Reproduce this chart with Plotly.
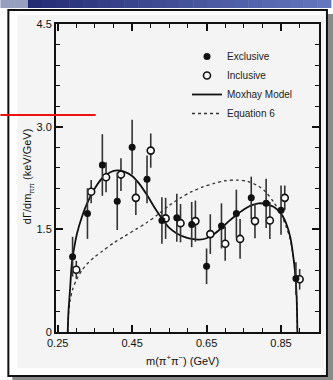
import plotly.graph_objects as go

# ---------------- data ----------------
x_exclusive = [0.29, 0.33, 0.37, 0.41, 0.45, 0.49, 0.53, 0.57, 0.61, 0.65, 0.69, 0.73, 0.77, 0.81, 0.85, 0.89]
y_exclusive = [1.10, 1.73, 2.44, 1.91, 2.70, 2.23, 1.63, 1.67, 1.57, 0.96, 1.55, 1.73, 1.96, 1.88, 1.78, 0.78]
e_exclusive = [0.29, 0.37, 0.45, 0.42, 0.40, 0.35, 0.34, 0.35, 0.33, 0.26, 0.33, 0.35, 0.31, 0.36, 0.36, 0.24]

x_inclusive = [0.30, 0.34, 0.38, 0.42, 0.46, 0.50, 0.54, 0.58, 0.62, 0.66, 0.70, 0.74, 0.78, 0.82, 0.86, 0.90]
y_inclusive = [0.91, 2.05, 2.26, 2.30, 1.96, 2.65, 1.66, 1.59, 1.62, 1.43, 1.29, 1.36, 1.62, 1.63, 1.96, 0.77]
e_inclusive = [0.13, 0.17, 0.22, 0.24, 0.25, 0.25, 0.30, 0.28, 0.30, 0.29, 0.25, 0.29, 0.25, 0.27, 0.18, 0.15]

x_moxhay = [0.277, 0.279, 0.283, 0.288, 0.295, 0.302, 0.315, 0.329, 0.35, 0.37, 0.39, 0.41, 0.43, 0.45,
            0.47, 0.49, 0.51, 0.53, 0.55, 0.57, 0.59, 0.61, 0.63, 0.65, 0.67, 0.69, 0.71, 0.73, 0.75,
            0.77, 0.79, 0.81, 0.83, 0.85, 0.865, 0.875, 0.883, 0.889, 0.892, 0.894]
y_moxhay = [0.0, 0.30, 0.60, 1.00, 1.25, 1.44, 1.68, 1.88, 2.10, 2.25, 2.33, 2.36, 2.34, 2.28,
            2.16, 2.00, 1.82, 1.66, 1.52, 1.44, 1.39, 1.36, 1.35, 1.37, 1.43, 1.52, 1.62, 1.71, 1.79,
            1.85, 1.88, 1.87, 1.83, 1.73, 1.57, 1.38, 1.10, 0.80, 0.50, 0.0]

x_eq6 = [0.277, 0.279, 0.283, 0.29, 0.30, 0.315, 0.33, 0.35, 0.37, 0.40, 0.43, 0.46, 0.49, 0.52,
         0.55, 0.58, 0.61, 0.64, 0.67, 0.70, 0.73, 0.76, 0.79, 0.81, 0.83, 0.85, 0.865, 0.875,
         0.883, 0.889, 0.892, 0.894]
y_eq6 = [0.0, 0.25, 0.45, 0.62, 0.76, 0.90, 1.00, 1.10, 1.18, 1.30, 1.40, 1.50, 1.60, 1.72,
         1.85, 1.96, 2.05, 2.12, 2.17, 2.21, 2.22, 2.20, 2.13, 2.04, 1.90, 1.72, 1.52, 1.35,
         1.10, 0.80, 0.50, 0.0]

x_ticks = [0.25, 0.45, 0.65, 0.85]
x_ticktext = ["0.25", "0.45", "0.65", "0.85"]
y_ticks = [0, 1.5, 3.0, 4.5]
y_ticktext = ["0", "1.5", "3.0", "4.5"]

# ---------------- layout geometry (pixels) ----------------
W, H = 333, 380
L, R, T, B = 56, 321, 24, 332


def PX(x):
    return (x - L) / (R - L)


def PY(y):
    return (B - y) / (B - T)


FONT = "Liberation Sans, Arial, sans-serif"
INK = "#111111"

fig = go.Figure()

fig.add_trace(go.Scatter(
    x=x_eq6, y=y_eq6, mode="lines", name="Equation 6", legendrank=4,
    line=dict(color="#333333", width=1.3, dash="dot", shape="spline", smoothing=0.8)))
fig.add_trace(go.Scatter(
    x=x_moxhay, y=y_moxhay, mode="lines", name="Moxhay Model", legendrank=3,
    line=dict(color=INK, width=1.8, shape="spline", smoothing=0.8)))
fig.add_trace(go.Scatter(
    x=x_inclusive, y=y_inclusive, mode="markers", name="Inclusive", legendrank=2,
    marker=dict(symbol="circle", size=7, color="white", line=dict(color=INK, width=1.6)),
    error_y=dict(type="data", array=e_inclusive, visible=True, color="#333333", thickness=1.6, width=0)))
fig.add_trace(go.Scatter(
    x=x_exclusive, y=y_exclusive, mode="markers", name="Exclusive", legendrank=1,
    marker=dict(symbol="circle", size=7, color=INK, line=dict(color=INK, width=0)),
    error_y=dict(type="data", array=e_exclusive, visible=True, color="#333333", thickness=1.6, width=0)))

shapes = []
# header gradient bar
n = 24
for i in range(n):
    t = i / (n - 1)
    if i * W / n < 14:
        c = "rgb(150,160,190)"
    else:
        r = int(30 + 70 * t)
        g = int(38 + 80 * t)
        b = int(110 + 80 * t)
        c = f"rgb({r},{g},{b})"
    shapes.append(dict(type="rect", xref="paper", yref="paper", layer="below",
                       x0=PX(i * W / n), x1=PX((i + 1) * W / n + 0.5), y0=PY(8), y1=PY(0),
                       line=dict(width=0), fillcolor=c))
# shadow of frame
shapes.append(dict(type="rect", xref="paper", yref="paper", layer="below",
                   x0=PX(12), x1=PX(340), y0=PY(380), y1=PY(14),
                   line=dict(width=0), fillcolor="#8a8a8a"))
# frame
shapes.append(dict(type="rect", xref="paper", yref="paper", layer="below",
                   x0=PX(8), x1=PX(329), y0=PY(376), y1=PY(10),
                   line=dict(width=2, color="#111111"), fillcolor="white"))
# scanned area
shapes.append(dict(type="rect", xref="paper", yref="paper", layer="below",
                   x0=PX(17), x1=PX(326), y0=PY(368), y1=PY(15),
                   line=dict(width=0), fillcolor="#f4f4f4"))
# red pointer line
shapes.append(dict(type="line", xref="paper", yref="paper", layer="above",
                   x0=PX(0), x1=PX(96), y0=PY(115), y1=PY(115),
                   line=dict(width=2, color="#ee1111")))

annotations = [
    dict(text="dΓ/dm<sub>ππ</sub> (keV/GeV)", xref="paper", yref="paper",
         x=PX(28), y=PY(176), textangle=-90, showarrow=False,
         font=dict(family=FONT, size=11, color=INK), xanchor="center", yanchor="middle"),
    dict(text="m(π<sup>+</sup>π<sup>−</sup>) (GeV)", xref="paper", yref="paper",
         x=PX(183), y=PY(360), showarrow=False,
         font=dict(family=FONT, size=11, color=INK), xanchor="center", yanchor="middle"),
]

axis_common = dict(
    showgrid=False, zeroline=False, showline=True, linewidth=2, linecolor=INK,
    mirror="allticks", ticks="inside", ticklen=7, tickwidth=1.5, tickcolor=INK,
    tickfont=dict(family=FONT, size=11, color=INK),
)

fig.update_layout(
    width=W, height=H,
    margin=dict(l=L, r=W - R, t=T, b=H - B, pad=0),
    paper_bgcolor="white", plot_bgcolor="rgba(0,0,0,0)",
    shapes=shapes, annotations=annotations,
    xaxis=dict(range=[0.2455, 0.952], tickvals=x_ticks, ticktext=x_ticktext,
               minor=dict(dtick=0.05, tick0=0.25, ticks="inside", ticklen=4, tickwidth=1.2, tickcolor=INK),
               **axis_common),
    yaxis=dict(range=[0, 4.5], tickvals=y_ticks, ticktext=y_ticktext,
               minor=dict(dtick=0.3, tick0=0, ticks="inside", ticklen=4, tickwidth=1.2, tickcolor=INK),
               **axis_common),
    showlegend=True,
    legend=dict(x=PX(188), y=PY(42), xanchor="left", yanchor="top",
                bgcolor="rgba(0,0,0,0)", borderwidth=0,
                font=dict(family=FONT, size=10, color="#222222"), itemwidth=30),
)

fig.write_html("out.html")
